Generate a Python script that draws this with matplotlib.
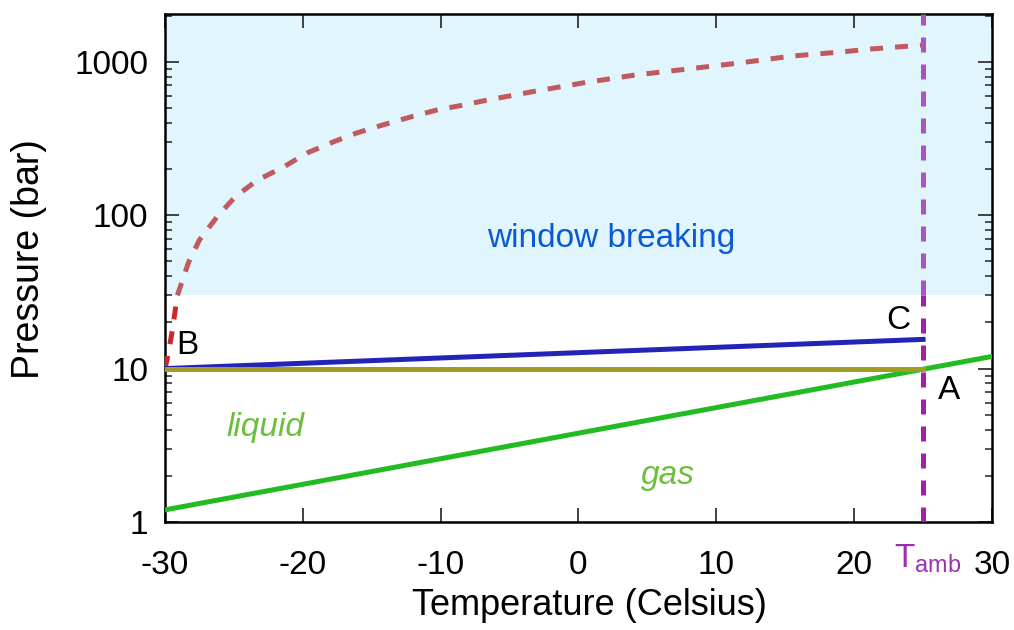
import numpy as np
import matplotlib.pyplot as plt
from matplotlib.ticker import FixedLocator, NullFormatter, LogLocator

plt.rcParams['font.family'] = ['Liberation Sans', 'DejaVu Sans']

# window-breaking boundary (dashed curve)
T_break = [-30, -29.8, -29.5, -29.1, -28.3, -27.5, -26.2, -24.9, -23.3, -21.4, -19.7,
           -17.8, -16.1, -14.2, -12.2, -10.3, -8.4, -6.6, -3.5, 0.3, 4.1, 7.9, 11.6,
           15.5, 19.0, 21.2, 23.1, 25.0]
P_break = [10, 12, 17, 30, 49, 69, 98, 132, 169, 206, 254,
           300, 343, 387, 436, 484, 521, 563, 634, 727, 819, 896, 980,
           1089, 1156, 1210, 1247, 1285]

# vapour pressure line (green)
T_vap = [-30, 30]
P_vap = [1.2, 12]

# B -> C (blue) and B -> A (olive)
T_bc = [-30, 25]
P_bc = [10, 15.5]
T_ba = [-30, 25]
P_ba = [10, 10]

T_amb = 25
P_limit = 30
xticks = [-30, -20, -10, 0, 10, 20, 30]
yticks = [1, 10, 100, 1000]

fig = plt.figure(figsize=(10.14, 6.30), dpi=100)
ax = fig.add_axes([0.1627, 0.1714, 0.8156, 0.8064])

ylim = (1, 2047)
ax.axhspan(P_limit, ylim[1], color='#e1f5fd', zorder=0, lw=0)

tb = np.array(T_break, dtype=float)
pb = np.array(P_break, dtype=float)
# split the curve where it enters the window-breaking zone
t_cross = np.interp(np.log10(P_limit), np.log10(pb), tb)
low = pb < P_limit
tb_low = np.append(tb[low], t_cross)
pb_low = np.append(pb[low], P_limit)
tb_high = np.insert(tb[~low], 0, t_cross)
pb_high = np.insert(pb[~low], 0, P_limit)

dash = (2.6, 2.4)
ax.plot(tb_low, pb_low, color='#cc2a2a', lw=3.6, dashes=dash, zorder=3)
ax.plot(tb_high, pb_high, color='#c05a5e', lw=3.6, dashes=dash, zorder=3)

ax.plot(T_vap, P_vap, color='#22bb22', lw=3.6, zorder=4)
ax.plot(T_bc, P_bc, color='#2323b5', lw=3.6, zorder=4)
ax.plot(T_ba, P_ba, color='#a19d23', lw=3.6, zorder=4)

vdash = (3.0, 2.4)
ax.plot([T_amb, T_amb], [ylim[0], P_limit], color='#a020a8', lw=3.6,
        dashes=vdash, zorder=5)
ax.plot([T_amb, T_amb], [P_limit, ylim[1]], color='#a855c2', lw=3.6,
        dashes=vdash, zorder=5)

ax.set_yscale('log')
ax.set_xlim(-30, 30)
ax.set_ylim(*ylim)

ax.xaxis.set_major_locator(FixedLocator(xticks))
ax.set_xticklabels([str(t) for t in xticks])
ax.yaxis.set_major_locator(FixedLocator(yticks))
ax.set_yticklabels([str(t) for t in yticks])
ax.yaxis.set_minor_locator(LogLocator(base=10, subs=np.arange(2, 10)))
ax.yaxis.set_minor_formatter(NullFormatter())

ax.tick_params(which='both', direction='in', top=True, right=True, color='#333333')
ax.tick_params(which='major', length=10, width=1.3, labelsize=24)
ax.tick_params(which='minor', length=5, width=1.2)
ax.tick_params(axis='x', pad=20)
ax.tick_params(axis='y', pad=12)
for s in ax.spines.values():
    s.set_linewidth(1.8)

ax.set_xlabel('Temperature (Celsius)', fontsize=26)
ax.set_ylabel('Pressure (bar)', fontsize=27)
ax.xaxis.set_label_coords(0.513, -0.13)
ax.yaxis.set_label_coords(-0.143, 0.518)

ax.text(-28.4, 14.2, 'B', fontsize=24, ha='center', va='center')
ax.text(23.2, 20.7, 'C', fontsize=24, ha='center', va='center')
ax.text(26.9, 7.2, 'A', fontsize=24, ha='center', va='center')
ax.text(2.4, 70.7, 'window breaking', fontsize=24, color='#0a5ad6', ha='center', va='center')
ax.text(-22.7, 4.14, 'liquid', fontsize=24, color='#6cbf3c', style='italic', ha='center', va='center')
ax.text(6.5, 2.01, 'gas', fontsize=24, color='#6cbf3c', style='italic', ha='center', va='center')

ax.text(T_amb + 0.3, -0.04, r'T$_{\mathregular{amb}}$', transform=ax.get_xaxis_transform(),
        fontsize=24, color='#9b2fb0', ha='center', va='top')

fig.savefig('out.png', dpi=100)
